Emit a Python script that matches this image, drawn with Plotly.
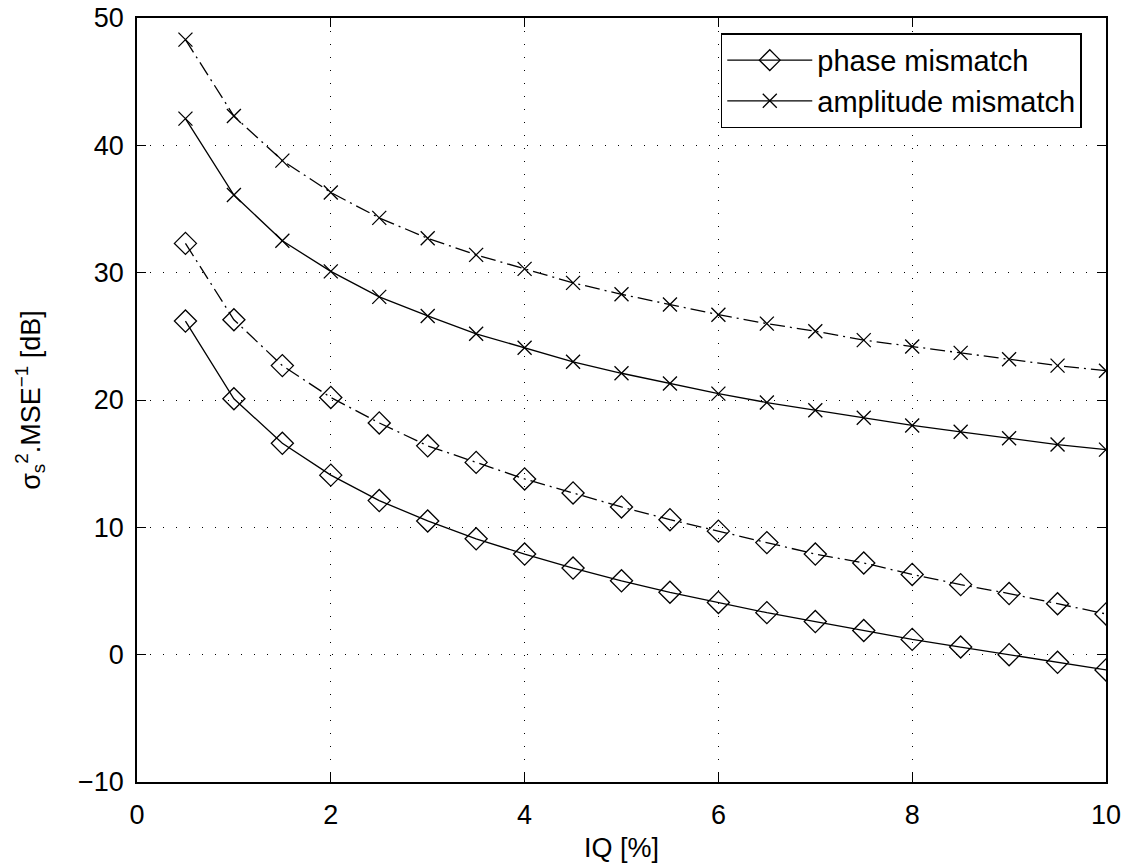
import plotly.graph_objects as go

iq = [0.5, 1.0, 1.5, 2.0, 2.5, 3.0, 3.5, 4.0, 4.5, 5.0,
      5.5, 6.0, 6.5, 7.0, 7.5, 8.0, 8.5, 9.0, 9.5, 10.0]

amp_dashdot = [48.3, 42.3, 38.8, 36.3, 34.3, 32.7, 31.4, 30.3, 29.2, 28.3,
               27.5, 26.7, 26.0, 25.4, 24.7, 24.2, 23.7, 23.2, 22.7, 22.3]
amp_solid = [42.1, 36.1, 32.5, 30.1, 28.1, 26.6, 25.2, 24.1, 23.0, 22.1,
             21.3, 20.5, 19.8, 19.2, 18.6, 18.0, 17.5, 17.0, 16.5, 16.1]
phase_dashdot = [32.3, 26.3, 22.7, 20.2, 18.2, 16.4, 15.1, 13.8, 12.7, 11.6,
                 10.6, 9.7, 8.8, 7.9, 7.2, 6.3, 5.5, 4.8, 4.0, 3.2]
phase_solid = [26.2, 20.1, 16.6, 14.1, 12.1, 10.5, 9.1, 7.9, 6.8, 5.8,
               4.9, 4.1, 3.3, 2.6, 1.9, 1.2, 0.6, 0.0, -0.6, -1.2]

x_ticks = [0, 2, 4, 6, 8, 10]
y_ticks = [-10, 0, 10, 20, 30, 40, 50]

DASHDOT = "15px,5px,2px,5px"
FONT = "Liberation Sans, Arial, sans-serif"
FS = 27

fig = go.Figure()

def add(y, name, symbol, size, dash, show):
    fig.add_trace(go.Scatter(
        x=iq, y=y, name=name, mode="lines+markers",
        line=dict(color="black", width=1.3, dash=dash),
        marker=dict(symbol=symbol, size=size, color="black",
                    line=dict(color="black", width=1.3)),
        showlegend=show,
    ))

add(phase_solid, "phase mismatch", "diamond-open", 17, "solid", True)
add(amp_solid, "amplitude mismatch", "x-thin-open", 14, "solid", True)
add(phase_dashdot, "phase dashdot", "diamond-open", 17, DASHDOT, False)
add(amp_dashdot, "amp dashdot", "x-thin-open", 14, DASHDOT, False)

axis_common = dict(
    showline=True, linecolor="black", linewidth=1.5, mirror="ticks",
    ticks="inside", ticklen=9, tickwidth=1.3, tickcolor="black",
    showgrid=True, gridcolor="black", gridwidth=1, griddash="1px,12px",
    zeroline=False, tickfont=dict(family=FONT, size=FS, color="black"),
    ticklabeloverflow="allow", automargin=False,
)

fig.update_xaxes(range=[0, 10], tickvals=x_ticks, ticklabelstandoff=8,
                 title=dict(text="IQ [%]", font=dict(family=FONT, size=FS, color="black"), standoff=9),
                 **axis_common)
fig.update_yaxes(range=[-10, 50], tickvals=y_ticks, ticklabelstandoff=6,
                 ticktext=[("\u2212" + str(-v)) if v < 0 else str(v) for v in y_ticks],
                 title=dict(text="\u03c3<sub>s</sub><sup>2</sup>.MSE<sup>\u22121</sup> [dB]",
                            font=dict(family=FONT, size=FS, color="black"), standoff=30),
                 **axis_common)

fig.update_layout(
    width=1126, height=865,
    margin=dict(l=137, r=20, t=18, b=83),
    plot_bgcolor="white", paper_bgcolor="white",
    font=dict(family=FONT, size=FS, color="black"),
    legend=dict(x=0.975, y=0.98, xanchor="right", yanchor="top",
                bgcolor="white", bordercolor="black", borderwidth=1.5,
                font=dict(family=FONT, size=29, color="black"),
                itemwidth=85, tracegroupgap=0),
)

fig.write_html("out.html", config={"displayModeBar": False},
               post_script="document.body.style.margin='0';")
